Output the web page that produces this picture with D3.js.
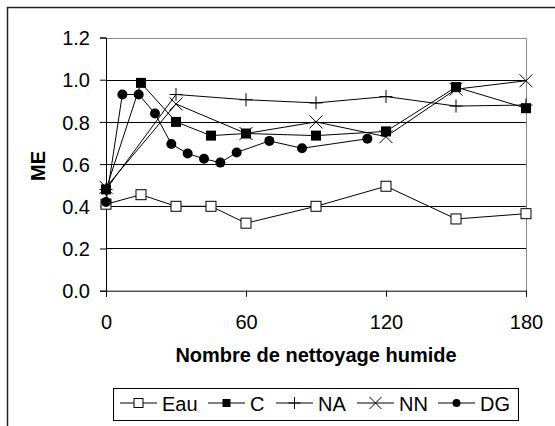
<!DOCTYPE html>
<html><head><meta charset="utf-8">
<script src="https://cdn.jsdelivr.net/npm/d3@7"></script>
<style>body{margin:0;background:#fff}svg{display:block}text{font-family:"Liberation Sans",Arial,sans-serif;fill:#000}</style>
</head><body>
<script>
const xEau = [0,15,30,45,60,90,120,150,180];
const eau  = [0.41,0.455,0.40,0.40,0.32,0.40,0.495,0.34,0.365];
const xC   = [0,15,30,45,60,90,120,150,180];
const cVal = [0.48,0.985,0.80,0.735,0.745,0.735,0.755,0.965,0.865];
const xNA  = [0,30,60,90,120,150,180];
const na   = [0.48,0.93,0.905,0.89,0.92,0.875,0.88];
const xNN  = [0,30,60,90,120,150,180];
const nn   = [0.49,0.885,0.745,0.80,0.73,0.955,0.995];
const xDG  = [0,7,14,21,28,35,42,49,56,70,84,112];
const dg   = [0.42,0.93,0.93,0.84,0.695,0.65,0.625,0.607,0.655,0.71,0.675,0.72];
const yTicks = [0,0.2,0.4,0.6,0.8,1.0,1.2];
const xTicks = [0,60,120,180];
const seriesNames = ["Eau","C","NA","NN","DG"];

const W=555,H=426,FS=20;
const svg=d3.select("body").append("svg").attr("width",W).attr("height",H);
svg.append("rect").attr("width",W).attr("height",H).attr("fill","#fff");
svg.append("rect").attr("x",7.5).attr("y",7.5).attr("width",W+20).attr("height",H+20)
  .attr("fill","none").attr("stroke","#222").attr("stroke-width",1.5);

const x=d3.scaleLinear().domain([0,180]).range([106,526]);
const y=d3.scaleLinear().domain([0,1.2]).range([290.7,37.5]);

svg.append("g").selectAll("line").data(yTicks.filter(v=>v>0&&v<1.2)).join("line")
  .attr("x1",x(0)).attr("x2",x(180)).attr("y1",d=>Math.round(y(d))+0.5).attr("y2",d=>Math.round(y(d))+0.5)
  .attr("stroke","#000").attr("stroke-width",1);
svg.append("path").attr("d",`M${x(0)},${Math.round(y(1.2))+0.5}H${x(180)+0.5}V${y(0)}`)
  .attr("fill","none").attr("stroke","#888").attr("stroke-width",1);

const yAxis=svg.append("g").attr("transform",`translate(${x(0)},0)`)
  .call(d3.axisLeft(y).tickValues(yTicks).tickSize(6).tickPadding(10).tickFormat(d3.format(".1f")));
const xAxis=svg.append("g").attr("transform",`translate(0,${y(0)})`)
  .call(d3.axisBottom(x).tickValues(xTicks).tickSize(6).tickPadding(18).tickFormat(d3.format("d")));
[yAxis,xAxis].forEach(g=>{
  g.select(".domain").attr("stroke","#000").attr("stroke-width",1);
  g.selectAll(".tick line").attr("stroke","#000");
  g.selectAll("text").attr("font-size",FS).attr("font-family","'Liberation Sans',Arial,sans-serif");
});
yAxis.selectAll("text").attr("dy","0.36em");

svg.append("text").attr("x",316).attr("y",362).attr("text-anchor","middle")
  .attr("font-size",FS).attr("font-weight","bold").text("Nombre de nettoyage humide");
svg.append("text").attr("transform","translate(45,166) rotate(-90)").attr("text-anchor","middle")
  .attr("font-size",FS).attr("font-weight","bold").text("ME");

function marker(g,type,cx,cy,s){
  if(type==="Eau"){ g.append("rect").attr("x",cx-s/2).attr("y",cy-s/2).attr("width",s).attr("height",s).attr("fill","#fff").attr("stroke","#000").attr("stroke-width",1); }
  else if(type==="C"){ g.append("rect").attr("x",cx-s/2).attr("y",cy-s/2).attr("width",s).attr("height",s).attr("fill","#000"); }
  else if(type==="NA"){ g.append("path").attr("d",`M${cx-s/2},${cy}H${cx+s/2}M${cx},${cy-s/2}V${cy+s/2}`).attr("stroke","#000").attr("stroke-width",1); }
  else if(type==="NN"){ g.append("path").attr("d",`M${cx-s/2},${cy-s/2}L${cx+s/2},${cy+s/2}M${cx-s/2},${cy+s/2}L${cx+s/2},${cy-s/2}`).attr("stroke","#000").attr("stroke-width",1); }
  else if(type==="DG"){ g.append("circle").attr("cx",cx).attr("cy",cy).attr("r",s/2).attr("fill","#000"); }
}
const sizes={Eau:10,C:10,NA:13,NN:13,DG:10};
const series=[["Eau",xEau,eau],["C",xC,cVal],["NA",xNA,na],["NN",xNN,nn],["DG",xDG,dg]];
const line=d3.line().x(d=>x(d[0])).y(d=>y(d[1]));
series.forEach(([name,xs,vs])=>{
  const pts=xs.map((v,i)=>[v,vs[i]]);
  const g=svg.append("g");
  g.append("path").attr("d",line(pts)).attr("fill","none").attr("stroke","#000").attr("stroke-width",1);
  pts.forEach(p=>marker(g,name,x(p[0]),y(p[1]),sizes[name]));
});

svg.append("rect").attr("x",113.5).attr("y",388.5).attr("width",405).attr("height",32)
  .attr("fill","#fff").attr("stroke","#000").attr("stroke-width",1);
const legX=[120,208,276,357,438];
const lsz={Eau:9,C:8,NA:12,NN:12,DG:8};
seriesNames.forEach((n,i)=>{
  const g=svg.append("g");
  const lx=legX[i], ly=403;
  g.append("line").attr("x1",lx).attr("x2",lx+37).attr("y1",ly).attr("y2",ly).attr("stroke","#000");
  marker(g,n,lx+18.5,ly,lsz[n]);
  g.append("text").attr("x",lx+42).attr("y",411).attr("font-size",FS).text(n);
});
</script>
</body></html>
